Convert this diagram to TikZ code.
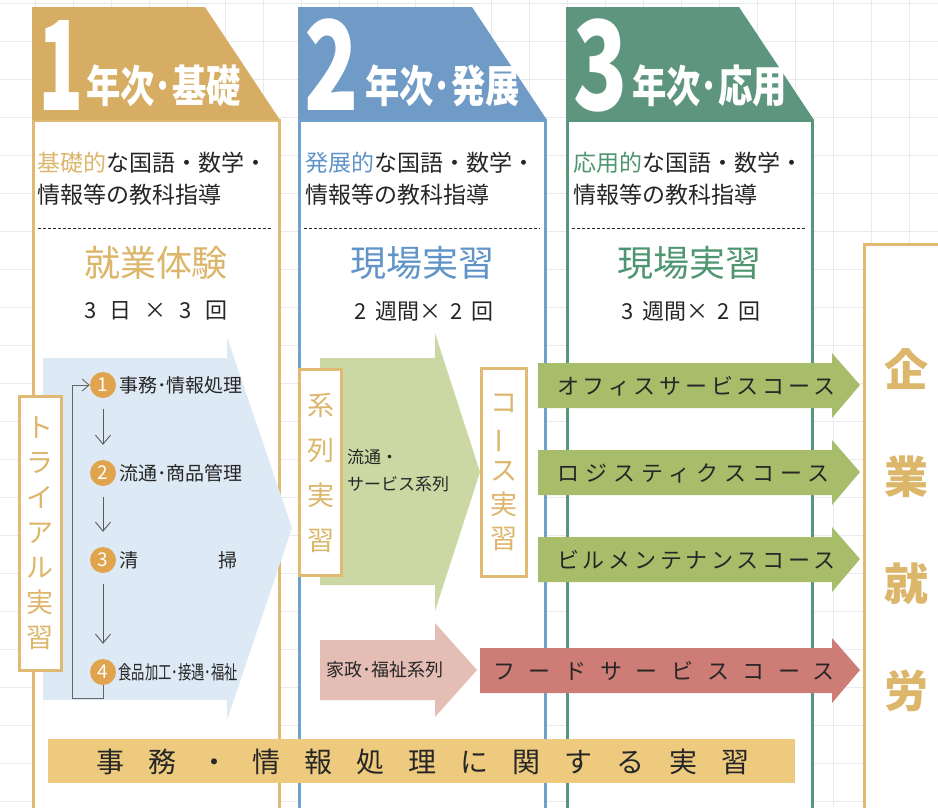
\documentclass[tikz,border=0pt]{standalone}
\usepackage{fontspec}
\setmainfont{Noto Sans CJK JP}
\usepackage{graphicx}
\usepackage{tikz}
\usetikzlibrary{arrows.meta, positioning}
\definecolor{goldhead}{RGB}{214,173,98}
\definecolor{bluehead}{RGB}{112,155,198}
\definecolor{greenhead}{RGB}{94,149,127}
\definecolor{goldline}{RGB}{224,186,114}
\definecolor{blueline}{RGB}{112,160,206}
\definecolor{greenline}{RGB}{88,150,124}
\definecolor{goldtext}{RGB}{220,182,106}
\definecolor{bluetext}{RGB}{96,148,200}
\definecolor{greentext}{RGB}{78,150,112}
\definecolor{inktext}{RGB}{38,38,38}
\definecolor{trialblue}{RGB}{221,233,245}
\definecolor{serieslime}{RGB}{203,216,163}
\definecolor{courseolive}{RGB}{168,189,106}
\definecolor{seriespink}{RGB}{228,190,180}
\definecolor{coursered}{RGB}{206,124,118}
\definecolor{bandgold}{RGB}{237,202,126}
\definecolor{circlegold}{RGB}{224,163,78}
\definecolor{gridgray}{RGB}{232,235,238}

\tikzset{
  yearnum/.style={text=white, font=\fontsize{124}{124}\selectfont\bfseries, inner sep=0pt, anchor=base},
  yeartitle/.style={text=white, font=\fontsize{44}{44}\selectfont\bfseries, inner sep=0pt, anchor=base west},
  bodytext/.style={text=inktext, font=\fontsize{23}{32}\selectfont, align=left, inner sep=0pt, anchor=west},
  practice/.style={font=\fontsize{36}{36}\selectfont, inner sep=0pt},
  countlabel/.style={text=inktext, font=\fontsize{22}{22}\selectfont, inner sep=0pt},
  dashline/.style={draw=inktext, line width=0.8pt, dash pattern=on 3pt off 2pt},
  colframe/.style={line width=3pt, fill=white},
  tatebox/.style={draw=goldline, line width=3pt, fill=white, text=goldtext, align=center, inner sep=0pt},
  numdot/.style={circle, fill=circlegold, text=white, minimum size=26pt, inner sep=0pt, font=\fontsize{19}{19}\selectfont},
  itemtext/.style={text=inktext, font=\fontsize{19}{19}\selectfont, anchor=west, inner sep=0pt},
  flowarrow/.style={draw=black!65, line width=0.9pt, -{Straight Barb[length=9pt,width=15pt]}, shorten <=11pt, shorten >=15pt},
  loopline/.style={draw=black!60, line width=0.9pt, -{Straight Barb[length=7pt,width=12pt]}},
  seriestext/.style={text=inktext, font=\fontsize{17}{27}\selectfont, inner sep=0pt},
  coursetext/.style={text=inktext, font=\fontsize{22}{22}\selectfont, anchor=west, inner sep=0pt},
  gridline/.style={draw=gridgray, line width=0.8pt},
}

\begin{document}
\begin{tikzpicture}[x=1pt, y=-1pt]
  \useasboundingbox (0,0) rectangle (938,807);

  % grid paper
  \foreach \gx in {35,73,...,935} \draw[gridline] (\gx,0) -- (\gx,807);
  \foreach \gy in {3,41,...,805} \draw[gridline] (0,\gy) -- (938,\gy);

  % three year columns
  \draw[colframe, draw=goldline] (33,120) rectangle (279,820);
  \draw[colframe, draw=blueline] (299,120) rectangle (545,820);
  \draw[colframe, draw=greenline] (567,120) rectangle (812,820);
  \fill[goldhead] (32,7) -- (205,7) -- (280,120) -- (32,120) -- cycle;
  \fill[bluehead] (298,7) -- (472,7) -- (547,120) -- (298,120) -- cycle;
  \fill[greenhead] (566,7) -- (739,7) -- (814,120) -- (566,120) -- cycle;

  % employment box
  \draw[colframe, draw=goldline] (864,244) rectangle (960,820);
  \node[text=goldtext, font=\fontsize{44}{107}\selectfont\bfseries, align=center, inner sep=0pt] (job) at (906,530) {企\\業\\就\\労};

  % headers
  \node[yearnum] (y1num) at (61,110) {\scalebox{0.6}[1]{1}};
  \node[yeartitle] (y1title) at (86,102) {\scalebox{0.78}[1]{年次･基礎}};
  \node[yearnum] (y2num) at (332,110) {\scalebox{0.72}[1]{2}};
  \node[yeartitle] (y2title) at (365,102) {\scalebox{0.78}[1]{年次･発展}};
  \node[yearnum] (y3num) at (601,110) {\scalebox{0.72}[1]{3}};
  \node[yeartitle] (y3title) at (632,102) {\scalebox{0.78}[1]{年次･応用}};

  % subjects and practice
  \node[bodytext] (y1body) at (37,179) {\textcolor{goldtext}{基礎的}な国語・数学・\\情報等の教科指導};
  \node[bodytext] (y2body) at (305,179) {\textcolor{bluetext}{発展的}な国語・数学・\\情報等の教科指導};
  \node[bodytext] (y3body) at (573,179) {\textcolor{greentext}{応用的}な国語・数学・\\情報等の教科指導};
  \draw[dashline] (38,228) -- (272,228);
  \draw[dashline] (304,228) -- (540,228);
  \draw[dashline] (572,228) -- (806,228);
  \node[practice, text=goldtext] (y1prac) at (156,263) {就業体験};
  \node[practice, text=bluetext] (y2prac) at (422,263) {現場実習};
  \node[practice, text=greentext] (y3prac) at (689,263) {現場実習};
  \node[countlabel] (y1count) at (156,311) {3\hspace{13pt}日\hspace{13pt}×\hspace{13pt}3\hspace{13pt}回};
  \node[countlabel] (y2count) at (424,311) {2\hspace{9pt}週間×\hspace{9pt}2\hspace{9pt}回};
  \node[countlabel] (y3count) at (691,311) {3\hspace{9pt}週間×\hspace{9pt}2\hspace{9pt}回};

  % big arrows
  \fill[trialblue] (43,358) -- (227,358) -- (227,337) -- (292,528) -- (227,720) -- (227,700) -- (43,700) -- cycle;
  \fill[serieslime] (320,358) -- (435,358) -- (435,333) -- (480,472) -- (435,611) -- (435,585) -- (320,585) -- cycle;
  \fill[seriespink] (320,640) -- (435,640) -- (435,623) -- (477,670) -- (435,717) -- (435,700) -- (320,700) -- cycle;
  \fill[courseolive] (538,363) -- (832,363) -- (832,353) -- (860,385) -- (832,418) -- (832,408) -- (538,408) -- cycle;
  \fill[courseolive] (538,450) -- (832,450) -- (832,440) -- (860,472) -- (832,505) -- (832,495) -- (538,495) -- cycle;
  \fill[courseolive] (538,537) -- (832,537) -- (832,527) -- (860,559) -- (832,592) -- (832,582) -- (538,582) -- cycle;
  \fill[coursered] (480,648) -- (832,648) -- (832,638) -- (860,670) -- (832,703) -- (832,693) -- (480,693) -- cycle;

  % vertical label boxes
  \node[tatebox, minimum width=42pt, minimum height=274pt, font=\fontsize{27}{35}\selectfont] (trial) at (40.5,533.5) {ト\\ラ\\イ\\ア\\ル\\実\\習};
  \node[tatebox, minimum width=42pt, minimum height=206pt, font=\fontsize{27}{45}\selectfont] (series) at (320.5,472.5) {系\\列\\実\\習};
  \node[tatebox, minimum width=45pt, minimum height=208pt, font=\fontsize{27}{34}\selectfont] (course) at (504,472.5) {コ\\\rotatebox[origin=c]{90}{ー}\\ス\\実\\習};

  % trial steps
  \node[numdot] (num1) at (103,385) {1};
  \node[numdot] (num2) at (103,473) {2};
  \node[numdot] (num3) at (103,560) {3};
  \node[numdot] (num4) at (103,672) {4};
  \node[itemtext, right=3pt of num1] (item1) {事務･情報処理};
  \node[itemtext, right=3pt of num2] (item2) {流通･商品管理};
  \node[itemtext, right=3pt of num3] (item3) {清\hspace{80pt}掃};
  \node[itemtext, right=2pt of num4] (item4) {\scalebox{0.7}[1]{食品加工･接遇･福祉}};
  \draw[flowarrow] (num1) -- (num2);
  \draw[flowarrow] (num2) -- (num3);
  \draw[flowarrow] (num3) -- (num4);
  \coordinate (loopcorner) at (72,698);
  \draw[loopline] (num4.south) |- (loopcorner) |- (num1.west);

  % series and courses
  \node[seriestext, anchor=west, align=left] (distrib) at (347,471) {流通・\\サービス系列};
  \node[seriestext, font=\fontsize{18}{18}\selectfont] (homeec) at (385,670) {家政･福祉系列};
  \node[coursetext] (office) at (557,386) {\addfontfeature{LetterSpace=17}オフィスサービスコース};
  \node[coursetext] (logist) at (557,473) {\addfontfeature{LetterSpace=28}ロジスティクスコース};
  \node[coursetext] (build) at (557,560) {\addfontfeature{LetterSpace=17}ビルメンテナンスコース};
  \node[coursetext] (food) at (493,671) {\addfontfeature{LetterSpace=62}フードサービスコース};

  % bottom band
  \node[fill=bandgold, minimum width=747pt, minimum height=44pt, inner sep=0pt] (band) at (421.5,761) {};
  \node[text=inktext, font=\fontsize{28}{28}\selectfont, anchor=west, inner sep=0pt] (bandtext) at (96,762) {\addfontfeature{LetterSpace=86}事務・情報処理に関する実習};
\end{tikzpicture}
\end{document}
